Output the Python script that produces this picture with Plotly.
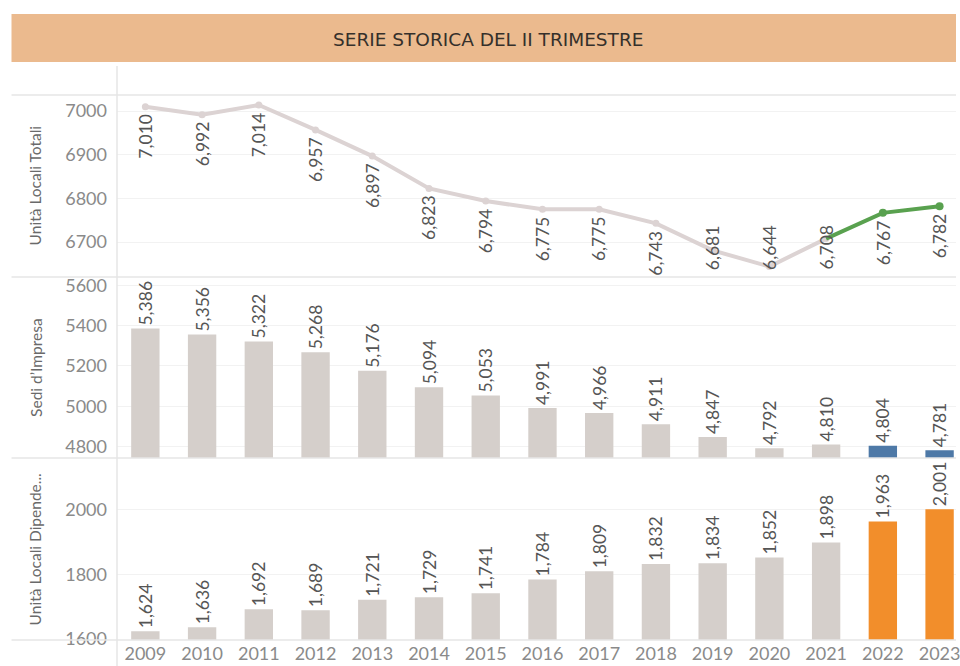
import plotly.graph_objects as go

# ---------------- data ----------------
years = [2009, 2010, 2011, 2012, 2013, 2014, 2015, 2016, 2017, 2018, 2019, 2020, 2021, 2022, 2023]
year_labels = [str(y) for y in years]
unita_locali_totali = [7010, 6992, 7014, 6957, 6897, 6823, 6794, 6775, 6775, 6743, 6681, 6644, 6708, 6767, 6782]
sedi_impresa = [5386, 5356, 5322, 5268, 5176, 5094, 5053, 4991, 4966, 4911, 4847, 4792, 4810, 4804, 4781]
unita_locali_dipendenti = [1624, 1636, 1692, 1689, 1721, 1729, 1741, 1784, 1809, 1832, 1834, 1852, 1898, 1963, 2001]
highlight_years = [2022, 2023]

title_text = "SERIE STORICA DEL II TRIMESTRE"
row_titles = ["Unità Locali Totali", "Sedi d\u2019Impresa", "Unità Locali Dipende..."]
ticks_row1 = [6700, 6800, 6900, 7000]
ticks_row2 = [4800, 5000, 5200, 5400, 5600]
ticks_row3 = [1600, 1800, 2000]

# ---------------- style ----------------
W, H = 960, 666
L, R, T, B = 117, 0, 95, 26
PW, PH = W - L - R, H - T - B
FONT = "Lato, 'Open Sans', sans-serif"
GRAY_BAR = "#D5CFCB"
GRAY_LINE = "#DCD3D3"
GREEN = "#59A14F"
BLUE = "#4E79A7"
ORANGE = "#F28E2B"
LABEL_COL = "#555555"
TICK_COL = "#8A8A8A"
SEP_COL = "#E6E6E6"
GRID_COL = "#F2F2F2"
LBL_SIZE = 17.5


def px_x(px):
    return (px - L) / PW


def px_y(py):
    return (H - B - py) / PH


# panel domains (paper)
d1 = [px_y(277), 1.0]
d2 = [px_y(458), px_y(277)]
d3 = [0.0, px_y(458)]
r1 = [6620, 7037]
r2 = [4743, 5642]
r3 = [1597, 2159]
xr = [2008.5, 2008.5 + PW / 57.0]

fig = go.Figure()

# ---- row 1: line ----
hl_idx = [i for i, y in enumerate(years) if y in highlight_years]
first_hl = hl_idx[0]
fig.add_trace(go.Scatter(
    x=years[:first_hl], y=unita_locali_totali[:first_hl], mode="lines+markers",
    line=dict(color=GRAY_LINE, width=4), marker=dict(color=GRAY_LINE, size=7),
    xaxis="x", yaxis="y", showlegend=False, hoverinfo="x+y"))
fig.add_trace(go.Scatter(
    x=years[first_hl - 1:], y=unita_locali_totali[first_hl - 1:], mode="lines",
    line=dict(color=GREEN, width=4),
    xaxis="x", yaxis="y", showlegend=False, hoverinfo="skip"))
fig.add_trace(go.Scatter(
    x=[years[i] for i in hl_idx], y=[unita_locali_totali[i] for i in hl_idx], mode="markers",
    marker=dict(color=GREEN, size=8),
    xaxis="x", yaxis="y", showlegend=False, hoverinfo="x+y"))

# row 1 labels (rotated) below points, kept inside the panel
annotations = []
px_per_unit1 = (277 - 95) / (r1[1] - r1[0])
label_len_units = 52 / px_per_unit1
for yr, v in zip(years, unita_locali_totali):
    txt = f"{v:,}"
    if v - label_len_units < r1[0]:
        annotations.append(dict(x=yr, y=r1[0], xref="x", yref="y", text=txt, textangle=-90,
                                showarrow=False, yanchor="bottom", xanchor="center", yshift=5,
                                font=dict(family=FONT, size=LBL_SIZE, color=LABEL_COL)))
    else:
        annotations.append(dict(x=yr, y=v, xref="x", yref="y", text=txt, textangle=-90,
                                showarrow=False, yanchor="top", xanchor="center", yshift=-5,
                                font=dict(family=FONT, size=LBL_SIZE, color=LABEL_COL)))

# ---- row 2 / row 3: bars ----
col2 = [BLUE if y in highlight_years else GRAY_BAR for y in years]
col3 = [ORANGE if y in highlight_years else GRAY_BAR for y in years]
fig.add_trace(go.Bar(
    x=years, y=sedi_impresa, marker=dict(color=col2, line=dict(width=0)), width=0.5,
    text=[f"{v:,}" for v in sedi_impresa], textposition="outside", textangle=-90,
    constraintext="none", cliponaxis=False,
    textfont=dict(family=FONT, size=LBL_SIZE, color=LABEL_COL),
    xaxis="x2", yaxis="y2", showlegend=False))
fig.add_trace(go.Bar(
    x=years, y=unita_locali_dipendenti, marker=dict(color=col3, line=dict(width=0)), width=0.5,
    text=[f"{v:,}" for v in unita_locali_dipendenti], textposition="outside", textangle=-90,
    constraintext="none", cliponaxis=False,
    textfont=dict(family=FONT, size=LBL_SIZE, color=LABEL_COL),
    xaxis="x3", yaxis="y3", showlegend=False))

tickfont = dict(family=FONT, size=18, color=TICK_COL)


def yax(dom, rng, tv, anchor):
    return dict(domain=dom, range=rng, tickvals=tv, tickfont=tickfont, showgrid=True,
                gridcolor=GRID_COL, gridwidth=1, zeroline=False, showline=False,
                ticks="", ticklabelstandoff=9, anchor=anchor, fixedrange=True)


def xax(anchor, show):
    return dict(range=xr, tickvals=years, ticktext=year_labels, showticklabels=show,
                tickfont=tickfont, showgrid=False, zeroline=False, showline=False,
                ticks="", anchor=anchor, fixedrange=True, ticklabelstandoff=1,
                ticklabeloverflow="allow")


# ---- decorations ----
shapes = [
    dict(type="rect", xref="paper", yref="paper", x0=px_x(11), x1=px_x(960), y0=px_y(62), y1=px_y(14),
         fillcolor="#EBBA8E", line=dict(width=0), layer="below"),
]
for yy in [95, 277, 458, 640]:
    shapes.append(dict(type="line", xref="paper", yref="paper", x0=px_x(11), x1=px_x(960),
                       y0=px_y(yy), y1=px_y(yy), line=dict(color=SEP_COL, width=1.5)))
shapes.append(dict(type="line", xref="paper", yref="paper", x0=0, x1=0,
                   y0=px_y(666), y1=px_y(66), line=dict(color=SEP_COL, width=1.5)))

annotations.append(dict(x=px_x(490), y=px_y(40), xref="paper", yref="paper", text=title_text,
                        showarrow=False, xanchor="center", yanchor="middle",
                        font=dict(family="'DejaVu Sans', sans-serif", size=18.5, color="#35302B")))
for t, dom in zip(row_titles, [d1, d2, d3]):
    annotations.append(dict(x=px_x(35), y=(dom[0] + dom[1]) / 2, xref="paper", yref="paper", text=t,
                            textangle=-90, showarrow=False, xanchor="center", yanchor="middle",
                            font=dict(family=FONT, size=15.5, color="#6A6A6A")))

fig.update_layout(
    width=W, height=H, margin=dict(l=L, r=R, t=T, b=B, pad=0),
    paper_bgcolor="white", plot_bgcolor="white",
    font=dict(family=FONT),
    xaxis=xax("y", False), xaxis2=xax("y2", False), xaxis3=xax("y3", True),
    yaxis=yax(d1, r1, ticks_row1, "x"), yaxis2=yax(d2, r2, ticks_row2, "x2"),
    yaxis3=yax(d3, r3, ticks_row3, "x3"),
    shapes=shapes, annotations=annotations,
)

fig.write_html("out.html", config={"displayModeBar": False},
               post_script="document.body.style.margin='0';document.body.style.overflow='hidden';")
